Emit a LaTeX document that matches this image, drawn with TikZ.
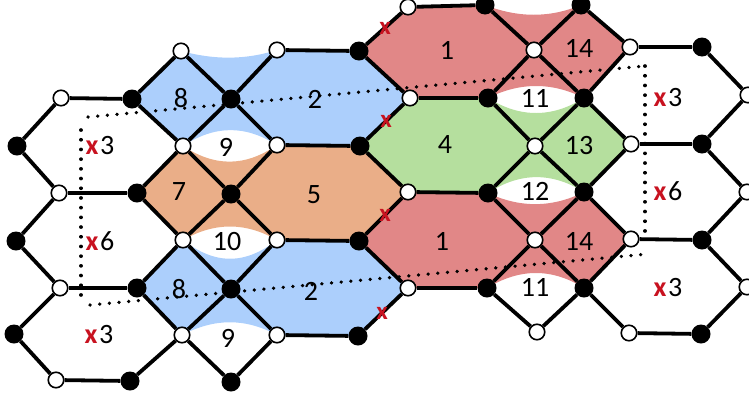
\documentclass[tikz,border=0pt]{standalone}
\usepackage{fontspec}
\setmainfont{Carlito}
\usetikzlibrary{backgrounds}
\definecolor{faceblue}{RGB}{172,207,252}
\definecolor{faceorange}{RGB}{234,174,136}
\definecolor{facered}{RGB}{225,135,135}
\definecolor{facegreen}{RGB}{181,223,158}
\definecolor{xred}{RGB}{200,18,32}
\tikzset{
	whitev/.style={circle,draw=black,fill=white,line width=1.6pt,inner sep=0pt,minimum size=15.5pt},
	blackv/.style={circle,fill=black,inner sep=0pt,minimum size=19pt},
	hexedge/.style={line width=3.8pt},
	dotline/.style={line width=3.6pt,line cap=round,dash pattern=on 0.1pt off 9.6pt},
	lbl/.style={font=\fontsize{28}{28}\selectfont,inner sep=0pt},
	xmark/.style={font=\fontsize{25}{25}\selectfont\bfseries,text=xred,inner sep=0pt}
}
\newcommand{\redx}{\textcolor{xred}{\textbf{x}}\kern1.5pt}
\begin{document}
\begin{tikzpicture}[x=1pt,y=-1pt]
	\useasboundingbox (0,0) rectangle (749,397);
	\begin{scope}[every node/.style={whitev}]
	\node (W1) at (61,98) {};
	\node (W2) at (59,193) {};
	\node (W3) at (60,288) {};
	\node (W4) at (56,380) {};
	\node (W5) at (181,51) {};
	\node (W6) at (183,146) {};
	\node (W7) at (183,240) {};
	\node (W8) at (182,335) {};
	\node (W9) at (277,50) {};
	\node (W10) at (277,145) {};
	\node (W11) at (277,240) {};
	\node (W12) at (277,335) {};
	\node (W13) at (408,7) {};
	\node (W14) at (410,98) {};
	\node (W15) at (408,192) {};
	\node (W16) at (408,288) {};
	\node (W17) at (534,50) {};
	\node (W18) at (535,146) {};
	\node (W19) at (535,240) {};
	\node (W20) at (537,332) {};
	\node (W21) at (630,47) {};
	\node (W22) at (631,144) {};
	\node (W23) at (631,239) {};
	\node (W24) at (629,333) {};
	\node (W25) at (748,95) {};
	\node (W26) at (747,192) {};
	\node (W27) at (747,287) {};
	\end{scope}
	
	\begin{scope}[every node/.style={blackv}]
	\node (B1) at (17,146) {};
	\node (B2) at (16,241) {};
	\node (B3) at (14,334) {};
	\node (B4) at (132,99) {};
	\node (B5) at (137,193) {};
	\node (B6) at (137,288) {};
	\node (B7) at (130,381) {};
	\node (B8) at (231,99) {};
	\node (B9) at (231,194) {};
	\node (B10) at (231,289) {};
	\node (B11) at (231,382) {};
	\node (B12) at (359,51) {};
	\node (B13) at (360,146) {};
	\node (B14) at (359,241) {};
	\node (B15) at (358,336) {};
	\node (B16) at (485,5) {};
	\node (B17) at (488,98) {};
	\node (B18) at (488,193) {};
	\node (B19) at (487,288) {};
	\node (B20) at (581,5) {};
	\node (B21) at (584,98) {};
	\node (B22) at (584,192) {};
	\node (B23) at (584,288) {};
	\node (B24) at (702,47) {};
	\node (B25) at (702,144) {};
	\node (B26) at (702,240) {};
	\node (B27) at (701,334) {};
	\end{scope}
	
	\coordinate (D1) at (88,117);
	\coordinate (D2) at (645,66);
	\coordinate (D3) at (645,239);
	\coordinate (D4) at (81,130);
	\coordinate (D5) at (81,296);
	\coordinate (D6) at (90,305);
	\coordinate (D7) at (648,254);
	
	\begin{scope}[on background layer]
	% faces
	\fill [faceblue] (B4.center) -- (W5.center) .. controls (215,60) and (245,60) .. (W9.center) -- (B12.center) -- (W14.center) -- (B13.center) -- (W10.center) .. controls (245,125) and (215,125) .. (W6.center) -- cycle;
	\fill [faceorange] (B5.center) -- (W6.center) .. controls (215,167) and (245,167) .. (W10.center) -- (B13.center) -- (W15.center) -- (B14.center) -- (W11.center) .. controls (245,222) and (215,222) .. (W7.center) -- cycle;
	\fill [faceblue] (B6.center) -- (W7.center) .. controls (215,265) and (245,265) .. (W11.center) -- (B14.center) -- (W16.center) -- (B15.center) -- (W12.center) .. controls (245,318) and (215,318) .. (W8.center) -- cycle;
	\fill [facered] (B12.center) -- (W13.center) -- (B16.center) .. controls (518,18) and (550,18) .. (B20.center) -- (W21.center) -- (B21.center) .. controls (552,82) and (520,82) .. (B17.center) -- (W14.center) -- cycle;
	\fill [facegreen] (B13.center) -- (W14.center) -- (B17.center) .. controls (520,118) and (552,118) .. (B21.center) -- (W22.center) -- (B22.center) .. controls (552,172) and (520,172) .. (B18.center) -- (W15.center) -- cycle;
	\fill [facered] (B14.center) -- (W15.center) -- (B18.center) .. controls (520,208) and (552,208) .. (B22.center) -- (W23.center) -- (B23.center) .. controls (552,268) and (520,268) .. (B19.center) -- (W16.center) -- cycle;
	
	\draw [hexedge] (W1) edge (B4);
	\draw [hexedge] (W1) edge (B1);
	\draw [hexedge] (B1) edge (W2);
	\draw [hexedge] (W2) edge (B5);
	\draw [hexedge] (B5) edge (W6);
	\draw [hexedge] (B4) edge (W6);
	\draw [hexedge] (B4) edge (W5);
	\draw [hexedge] (W5) edge (B8);
	\draw [hexedge] (B8) edge (W9);
	\draw [hexedge] (W9) edge (B12);
	\draw [hexedge] (B12) edge (W13);
	\draw [hexedge] (W13) edge (B16);
	\draw [hexedge] (B12) edge (W14);
	\draw [hexedge] (B8) edge (W6);
	\draw [hexedge] (B8) edge (W10);
	\draw [hexedge] (W10) edge (B13);
	\draw [hexedge] (B13) edge (W14);
	\draw [hexedge] (B13) edge (W15);
	\draw [hexedge] (W6) edge (B9);
	\draw [hexedge] (B9) edge (W10);
	\draw [hexedge] (B5) edge (W7);
	\draw [hexedge] (B9) edge (W7);
	\draw [hexedge] (B9) edge (W11);
	\draw [hexedge] (W11) edge (B14);
	\draw [hexedge] (B14) edge (W15);
	\draw [hexedge] (B14) edge (W16);
	\draw [hexedge] (W7) edge (B6);
	\draw [hexedge] (W7) edge (B10);
	\draw [hexedge] (W11) edge (B10);
	\draw [hexedge] (W2) edge (B2);
	\draw [hexedge] (B2) edge (W3);
	\draw [hexedge] (W3) edge (B6);
	\draw [hexedge] (B6) edge (W8);
	\draw [hexedge] (B10) edge (W8);
	\draw [hexedge] (B10) edge (W12);
	\draw [hexedge] (W12) edge (B15);
	\draw [hexedge] (B15) edge (W16);
	\draw [hexedge] (W3) edge (B3);
	\draw [hexedge] (B3) edge (W4);
	\draw [hexedge] (W4) edge (B7);
	\draw [hexedge] (B7) edge (W8);
	\draw [hexedge] (W8) edge (B11);
	\draw [hexedge] (B11) edge (W12);
	\draw [hexedge] (B16) edge (W17);
	\draw [hexedge] (B20) edge (W17);
	\draw [hexedge] (B20) edge (W21);
	\draw [hexedge] (W21) edge (B24);
	\draw [hexedge] (B24) edge (W25);
	\draw [hexedge] (W17) edge (B17);
	\draw [hexedge] (W17) edge (B21);
	\draw [hexedge] (W21) edge (B21);
	\draw [hexedge] (W14) edge (B17);
	\draw [hexedge] (B17) edge (W18);
	\draw [hexedge] (B21) edge (W18);
	\draw [hexedge] (B21) edge (W22);
	\draw [hexedge] (W22) edge (B25);
	\draw [hexedge] (B25) edge (W25);
	\draw [hexedge] (B25) edge (W26);
	\draw [hexedge] (W18) edge (B18);
	\draw [hexedge] (W18) edge (B22);
	\draw [hexedge] (W22) edge (B22);
	\draw [hexedge] (W15) edge (B18);
	\draw [hexedge] (B18) edge (W19);
	\draw [hexedge] (B22) edge (W19);
	\draw [hexedge] (B22) edge (W23);
	\draw [hexedge] (W23) edge (B26);
	\draw [hexedge] (B26) edge (W26);
	\draw [hexedge] (B26) edge (W27);
	\draw [hexedge] (W19) edge (B19);
	\draw [hexedge] (W19) edge (B23);
	\draw [hexedge] (W23) edge (B23);
	\draw [hexedge] (W16) edge (B19);
	\draw [hexedge] (B19) edge (W20);
	\draw [hexedge] (B23) edge (W20);
	\draw [hexedge] (B23) edge (W24);
	\draw [hexedge] (W24) edge (B27);
	\draw [hexedge] (B27) edge (W27);
	
	\draw [dotline] (D1) -- (D2);
	\draw [dotline] (D2) -- (D3);
	\draw [dotline] (D4) -- (D5);
	\draw [dotline] (D6) -- (D7);
	\end{scope}
	
	\begin{scope}[every node/.style={lbl}]
	\node (L1) at (447,50) {1};
	\node (L2) at (442,241) {1};
	\node (L3) at (315,99) {2};
	\node (L4) at (311,291) {2};
	\node (L5) at (445,145) {4};
	\node (L6) at (314,195) {5};
	\node (L7) at (179,192) {7};
	\node (L8) at (181,98) {8};
	\node (L9) at (179,289) {8};
	\node (L10) at (226,147) {9};
	\node (L11) at (228,338) {9};
	\node (L12) at (227,242) {10};
	\node (L13) at (535,98) {11};
	\node (L14) at (535,287) {11};
	\node (L15) at (535,191) {12};
	\node (L16) at (579,146) {13};
	\node (L17) at (579,48) {14};
	\node (L18) at (579,241) {14};
	\node (L19) at (100,146) {\redx3};
	\node (L20) at (100,241) {\redx6};
	\node (L21) at (99,335) {\redx3};
	\node (L22) at (668,98) {\redx3};
	\node (L23) at (668,191) {\redx6};
	\node (L24) at (668,288) {\redx3};
	\end{scope}
	
	\node [xmark] (X1) at (385,28) {x};
	\node [xmark] (X2) at (386,121) {x};
	\node [xmark] (X3) at (385,215) {x};
	\node [xmark] (X4) at (382,313) {x};
\end{tikzpicture}
\end{document}
